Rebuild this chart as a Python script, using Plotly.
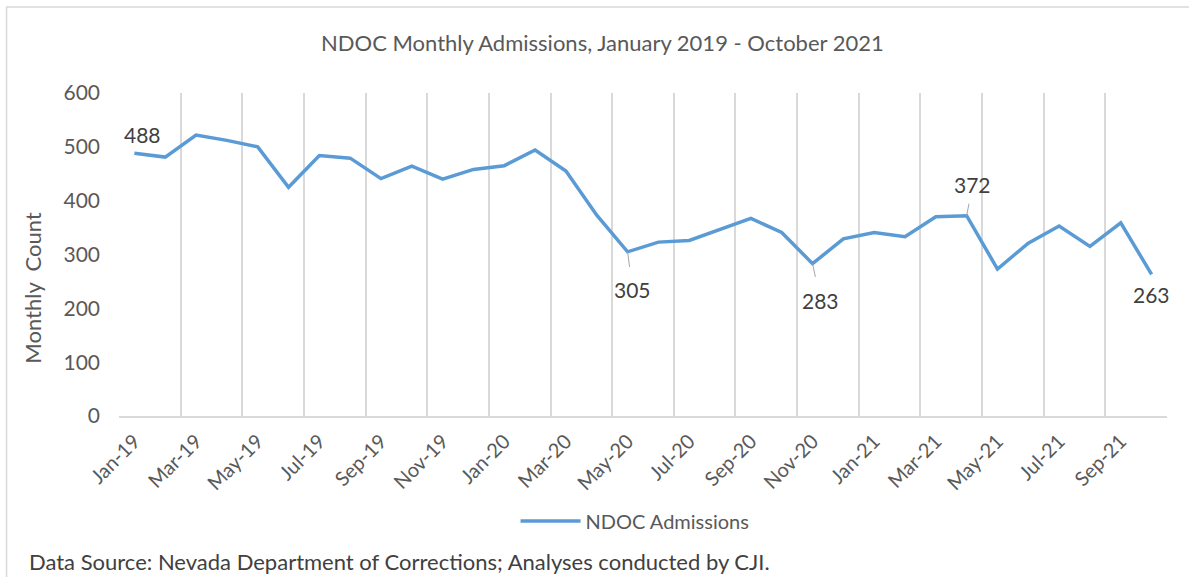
import plotly.graph_objects as go

# -----------------------------
# DATA
# -----------------------------
months = [
    "Jan-19", "Feb-19", "Mar-19", "Apr-19", "May-19", "Jun-19", "Jul-19", "Aug-19",
    "Sep-19", "Oct-19", "Nov-19", "Dec-19", "Jan-20", "Feb-20", "Mar-20", "Apr-20",
    "May-20", "Jun-20", "Jul-20", "Aug-20", "Sep-20", "Oct-20", "Nov-20", "Dec-20",
    "Jan-21", "Feb-21", "Mar-21", "Apr-21", "May-21", "Jun-21", "Jul-21", "Aug-21",
    "Sep-21", "Oct-21",
]
admissions = [
    488, 481, 522, 512, 500, 425, 484, 479,
    441, 464, 440, 458, 465, 494, 455, 373,
    305, 323, 326, 347, 367, 341, 283, 329,
    341, 333, 370, 372, 273, 321, 353, 315,
    359, 263,
]
# months that carry a data label
labelled = ["Jan-19", "May-20", "Nov-20", "Apr-21", "Oct-21"]
y_ticks = [0, 100, 200, 300, 400, 500, 600]

FONT = "Lato"
GREY = "#595959"
GRID = "#d9d9d9"
BLUE = "#5b9bd5"

x_idx = list(range(len(months)))
tick_idx = x_idx[::2]
tick_text = months[::2]

fig = go.Figure()
fig.add_trace(go.Scatter(
    x=x_idx,
    y=admissions,
    mode="lines",
    name="NDOC Admissions",
    line=dict(color=BLUE, width=3.5),
))

# -----------------------------
# DATA LABELS
# -----------------------------
# (xshift, yshift) for plain labels, (ax, ay, startstandoff) for leader labels
label_style = {
    "Jan-19": dict(showarrow=False, xshift=8, yshift=19),
    "May-20": dict(showarrow=True, ax=5, ay=38, startstandoff=9),
    "Nov-20": dict(showarrow=True, ax=8, ay=37, startstandoff=10),
    "Apr-21": dict(showarrow=True, ax=6, ay=-31, startstandoff=5),
    "Oct-21": dict(showarrow=False, xshift=0, yshift=-20),
}
for m in labelled:
    i = months.index(m)
    fig.add_annotation(
        x=i, y=admissions[i], text=str(admissions[i]),
        font=dict(family=FONT, size=21, color="#404040"),
        arrowhead=0, arrowwidth=1, arrowcolor="#a6a6a6",
        **label_style[m],
    )

# -----------------------------
# TEXTS
# -----------------------------
fig.add_annotation(
    text="NDOC Monthly Admissions, January 2019 - October 2021",
    xref="paper", yref="paper", x=0.4609, y=1.1548,
    xanchor="center", yanchor="middle", showarrow=False,
    font=dict(family=FONT, size=22, color=GREY),
)
fig.add_annotation(
    text="Monthly  Count",
    xref="paper", yref="paper", x=-0.0825, y=0.396,
    xanchor="center", yanchor="middle", showarrow=False, textangle=-90,
    font=dict(family=FONT, size=22, color=GREY),
)
fig.add_annotation(
    text="Data Source: Nevada Department of Corrections; Analyses conducted by CJI.",
    xref="paper", yref="paper", x=-0.0878, y=-0.452,
    xanchor="left", yanchor="middle", showarrow=False,
    font=dict(family=FONT, size=22, color="#404040"),
)

# chart area border (runs off the right and bottom of the picture)
fig.add_shape(
    type="rect", xref="paper", yref="paper",
    x0=-0.1073, y0=-0.7, x1=1.1, y1=1.2663,
    line=dict(color=GRID, width=1.5), layer="below",
)

fig.update_layout(
    width=1189, height=577,
    margin=dict(l=119, r=22, t=93, b=161, autoexpand=False),
    paper_bgcolor="white", plot_bgcolor="white",
    showlegend=True,
    legend=dict(
        orientation="h", x=0.4924, y=-0.325, xanchor="center", yanchor="middle",
        font=dict(family=FONT, size=20, color=GREY), itemwidth=60,
    ),
    xaxis=dict(
        range=[-0.5, len(months) - 0.5], automargin=False,
        tickvals=tick_idx, ticktext=tick_text, tickangle=-45,
        tickfont=dict(family=FONT, size=20, color=GREY),
        ticklabelstandoff=4,
        showgrid=False, zeroline=False,
        showline=True, linecolor=GRID, linewidth=1.5,
        minor=dict(tick0=-0.5, dtick=2, showgrid=True, gridcolor=GRID, gridwidth=1.5),
    ),
    yaxis=dict(
        range=[0, 600], tickvals=y_ticks, automargin=False,
        tickfont=dict(family=FONT, size=21, color=GREY),
        showgrid=False, zeroline=False, showline=False,
        ticklabelstandoff=18,
    ),
)

# drop the default body margin so the figure sits at the page corner
fig.write_html(
    "out.html",
    config={"displayModeBar": False},
    post_script="document.body.style.margin = '0';",
)
